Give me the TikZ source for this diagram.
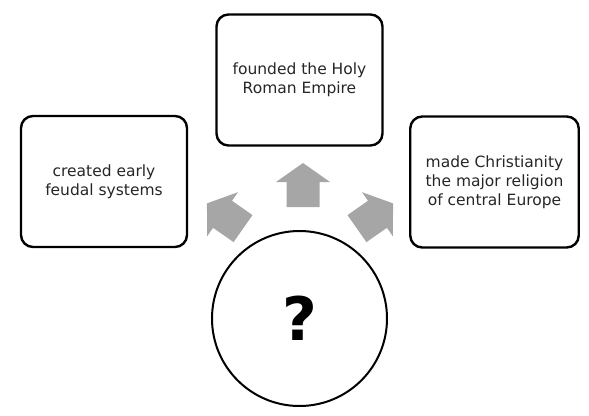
\documentclass[tikz,border=0pt]{standalone}
\usepackage{fontspec}
\setmainfont{DejaVu Sans}
\usetikzlibrary{positioning}

\begin{document}
\begin{tikzpicture}[x=1pt,y=-1pt]
	\tikzset{fact/.style={draw,rounded corners=12pt,line width=2.4pt,align=center,
		minimum width=166pt,minimum height=131pt,text=black!85,
		font=\fontsize{15.5}{19}\selectfont}}
	\tikzset{blockarrow/.style={fill=black!35}}
	\useasboundingbox (0,0) rectangle (589,415);

	%% centre circle
	\node[circle,draw,line width=2pt,minimum size=175pt] (who) at (299.5,318.5)
		{\fontsize{60}{60}\selectfont\bfseries ?};

	%% the three facts
	\node[fact] (feudal) at (104,181.5) {created early\\feudal systems};
	\node[fact] (holy) at (299.5,80) {founded the Holy\\Roman Empire};
	\node[fact,minimum width=168.5pt] (church) at (494.5,182) {made Christianity\\the major religion\\of central Europe};

	%% arrows out of the circle
	\foreach \ax/\ay/\ang in {225/216/55,303/185/0,375/216/-55}{
	\begin{scope}[shift={(\ax,\ay)},rotate=\ang]
	    \fill[blockarrow] (0,-22) -- (27,-3) -- (16.5,-3) -- (16.5,22)
	        -- (-16.5,22) -- (-16.5,-3) -- (-27,-3) -- cycle;
	\end{scope}
	}
\end{tikzpicture}
\end{document}
